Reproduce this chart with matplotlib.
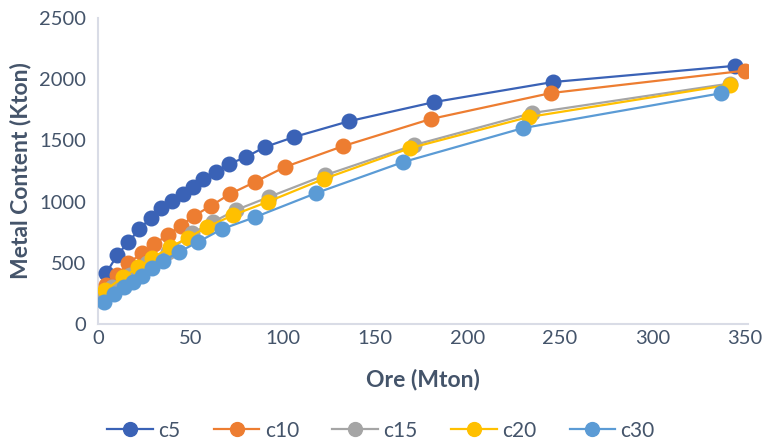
import matplotlib
matplotlib.use("Agg")
import matplotlib.pyplot as plt

# ----------------------------------------------------------------------------
# data (Ore in Mton, Metal Content in Kton)
# ----------------------------------------------------------------------------
c5_x = [4.3, 10.3, 16.3, 22.3, 28.3, 33.7, 39.7, 45.7, 51.1, 56.5, 63.6, 70.7,
        79.9, 90.2, 106, 136, 182, 246, 345]
c5_y = [417, 564, 670, 776, 866, 948, 1005, 1062, 1119, 1185, 1242, 1307,
        1364, 1446, 1528, 1658, 1814, 1977, 2110]

c10_x = [4.3, 10.3, 16.3, 23.9, 30.4, 37.5, 44.6, 51.6, 60.9, 71.2, 84.8, 101,
         132.6, 180, 245, 350]
c10_y = [319, 400, 498, 580, 654, 727, 801, 882, 964, 1062, 1160, 1283,
         1454, 1675, 1887, 2070]

c15_x = [0, 7.6, 17.4, 26.6, 37.5, 51, 62, 74.5, 92.4, 123, 171, 235, 342]
c15_y = [221, 302, 400, 498, 588, 743, 833, 931, 1038, 1217, 1462, 1724, 1965]

c20_x = [3.8, 13.6, 21.7, 29.3, 39, 48.4, 59, 73, 92, 122, 169, 233, 342]
c20_y = [278, 384, 466, 539, 629, 703, 793, 890, 1000, 1185, 1438, 1691, 1955]

c30_x = [3.3, 8.7, 14, 19, 23.9, 29.3, 35.3, 43.5, 54, 67, 85, 118, 165, 230, 337]
c30_y = [180, 245, 302, 343, 392, 457, 515, 588, 670, 776, 874, 1070, 1323,
         1601, 1885]

series_names = ["c5", "c10", "c15", "c20", "c30"]
x_ticks = [0, 50, 100, 150, 200, 250, 300, 350]
y_ticks = [0, 500, 1000, 1500, 2000, 2500]

# ----------------------------------------------------------------------------
# figure
# ----------------------------------------------------------------------------
plt.rcParams["font.family"] = ["Lato", "DejaVu Sans"]
TXT = "#44546a"

fig = plt.figure(figsize=(7.62, 4.46), dpi=100)
ax = fig.add_axes([0.129, 0.2735, 0.853, 0.686])

colors = ["#3a62b6", "#ed7d31", "#a5a5a5", "#ffc000", "#5b9bd5"]
data = [(c5_x, c5_y), (c10_x, c10_y), (c15_x, c15_y), (c20_x, c20_y), (c30_x, c30_y)]
for (xs, ys), name, col in zip(data, series_names, colors):
    ax.plot(xs, ys, color=col, lw=1.6, marker="o", ms=10.5, mec=col, mfc=col,
            label=name, zorder=3)

ax.set_xlim(0, 352)
ax.set_ylim(0, 2500)
ax.set_xticks(x_ticks)
ax.set_yticks(y_ticks)
ax.tick_params(axis="y", length=0, labelsize=14.5, colors=TXT, pad=9)
ax.tick_params(axis="x", length=0, labelsize=14.5, colors=TXT, pad=4)
for s in ["top", "right"]:
    ax.spines[s].set_visible(False)
for s in ["left", "bottom"]:
    ax.spines[s].set_color("#d9dce6")
    ax.spines[s].set_linewidth(1.5)

ax.set_xlabel("Ore (Mton)", fontsize=16.5, fontweight="bold", color=TXT, labelpad=16)
ax.set_ylabel("Metal Content (Kton)", fontsize=16.5, fontweight="bold", color=TXT,
              labelpad=5)

fig.legend(loc="lower center", ncol=5, frameon=False, fontsize=15,
           bbox_to_anchor=(0.5, -0.03), handlelength=2.2, columnspacing=1.6,
           labelcolor=TXT, handletextpad=0.25, markerscale=0.95)

fig.savefig("out.png", dpi=100)
